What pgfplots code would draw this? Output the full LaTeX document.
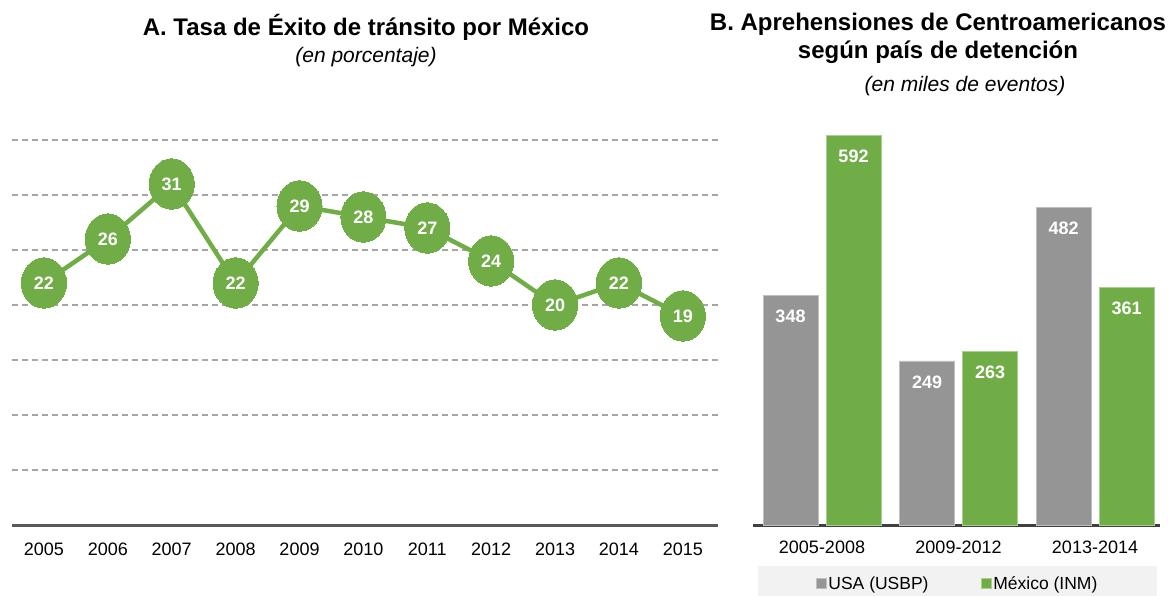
\documentclass[border=0pt]{standalone}
\usepackage{pgfplots}
\pgfplotsset{compat=1.18}
\usepackage{fontspec}
\setmainfont{Liberation Sans}
\definecolor{grn}{HTML}{70AD47}
\definecolor{gry}{HTML}{959595}
\definecolor{gridc}{HTML}{A6A6A6}
\definecolor{axc}{HTML}{595959}
\definecolor{axc2}{HTML}{404040}
\definecolor{legbg}{HTML}{F2F2F2}
\begin{document}
\begin{tikzpicture}[x=1pt,y=1pt]
\useasboundingbox (0,0) rectangle (1168,595);
% Panel A
\begin{axis}[at={(12pt,70pt)}, anchor=south west, scale only axis,
  width=706pt, height=418pt,
  xmin=2004.5, xmax=2015.55, ymin=0, ymax=38,
  axis x line=bottom, axis y line=left,
  x axis line style={-, color=axc, line width=3pt},
  y axis line style={draw=none},
  ytick={5,10,15,20,25,30,35}, yticklabels={},
  ymajorgrids, grid style={gridc, line width=1.2pt, dash pattern=on 6pt off 4pt},
  major tick length=0,
  xtick={2005,2006,2007,2008,2009,2010,2011,2012,2013,2014,2015},
  xticklabels={2005,2006,2007,2008,2009,2010,2011,2012,2013,2014,2015},
  xticklabel style={font=\fontsize{18}{21}\selectfont, yshift=-14pt},
  /pgf/number format/assume math mode=true,
  clip=false]
\addplot[grn, line width=4.5pt, mark=*, mark size=24pt,
  mark options={xscale=0.94, yscale=1.05, fill=grn, draw=grn, line width=0pt},
  nodes near coords,
  every node near coord/.style={anchor=center, text=white, font=\fontsize{18}{20}\selectfont\bfseries}]
  coordinates {(2005,22)(2006,26)(2007,31)(2008,22)(2009,29)(2010,28)(2011,27)(2012,24)(2013,20)(2014,22)(2015,19)};
\end{axis}
% Panel B
\begin{axis}[at={(753pt,70pt)}, anchor=south west, scale only axis,
  width=407pt, height=421.6pt,
  xmin=-0.5055, xmax=2.476, ymin=0, ymax=640,
  ybar=8pt, bar width=55pt,
  axis x line=bottom, axis y line=none,
  x axis line style={-, color=axc2, line width=3pt},
  major tick length=0,
  xtick={0,1,2}, xticklabels={2005-2008,2009-2012,2013-2014},
  xticklabel style={font=\fontsize{18}{21}\selectfont, yshift=-12pt},
  /pgf/number format/assume math mode=true,
  nodes near coords,
  every node near coord/.append style={anchor=center, yshift=-21pt, text=white, font=\fontsize{18}{20}\selectfont\bfseries},
  legend columns=2,
  legend style={at={(0.5025,-0.0975)}, anchor=north, draw=none, fill=legbg,
    inner xsep=58pt, inner ysep=8pt, font=\fontsize{17.5}{20}\selectfont,
    /tikz/every even column/.append style={column sep=50pt}},
  legend image code/.code={\fill[#1] (0pt,-5pt) rectangle (10pt,5pt);},
  clip=false]
\addplot[fill=gry, draw=gry!60!white, line width=0.8pt] coordinates {(0,348)(1,249)(2,482)};
\addplot[fill=grn, draw=grn!60!white, line width=0.8pt] coordinates {(0,592)(1,263)(2,361)};
\legend{USA (USBP), México (INM)}
\end{axis}
% Titles
\node[font=\fontsize{24}{28}\selectfont\bfseries] at (366,568) {A. Tasa de Éxito de tránsito por México};
\node[font=\fontsize{21}{24}\selectfont\itshape] at (366,538) {(en porcentaje)};
\node[font=\fontsize{24}{28}\selectfont\bfseries] at (938,571) {B. Aprehensiones de Centroamericanos};
\node[font=\fontsize{24}{28}\selectfont\bfseries] at (938,543) {según país de detención};
\node[font=\fontsize{21}{24}\selectfont\itshape] at (965,509) {(en miles de eventos)};
\end{tikzpicture}
\end{document}
